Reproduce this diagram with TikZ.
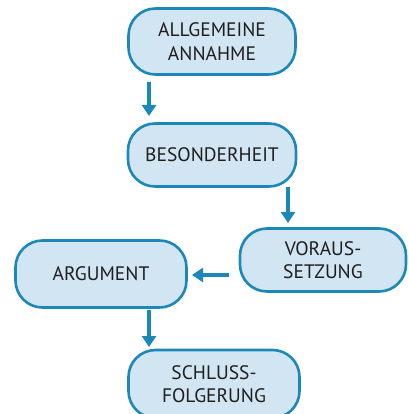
\documentclass[tikz,border=0pt]{standalone}
\usepackage{fontspec}
\setmainfont{PT Sans}
\usetikzlibrary{arrows.meta}
\definecolor{boxfill}{HTML}{D2E5F3}
\definecolor{boxline}{HTML}{1C88B9}
\definecolor{txt}{HTML}{1E1E1E}
\tikzset{
  stepbox/.style={draw=boxline, line width=2.6pt, fill=boxfill, rounded corners=27pt,
    align=center, text=txt, font=\fontsize{19.5}{23.5}\selectfont, inner sep=0pt},
  flow/.style={draw=boxline, line width=3.5pt, -{Triangle[length=11pt,width=14pt]}}
}
\begin{document}
\begin{tikzpicture}[x=1pt,y=-1pt]
\useasboundingbox (0,0) rectangle (408,414);
\clip (0,0) rectangle (408,414);
\node[stepbox, minimum width=167pt, minimum height=66pt] (a) at (212,41.5) {ALLGEMEINE\\ANNAHME};
\node[stepbox, minimum width=168pt, minimum height=63pt] (b) at (212,155) {BESONDERHEIT};
\node[stepbox, minimum width=166pt, minimum height=63pt] (c) at (323,260) {VORAUS-\\SETZUNG};
\node[stepbox, minimum width=171pt, minimum height=67pt] (d) at (101,274) {ARGUMENT};
\node[stepbox, minimum width=171pt, minimum height=68pt] (e) at (214,384) {SCHLUSS-\\FOLGERUNG};
\coordinate (a1) at (149,82);
\coordinate (a2) at (149,116);
\draw[flow] (a1) -- (a2);
\coordinate (b1) at (288,187);
\coordinate (b2) at (288,223);
\draw[flow] (b1) -- (b2);
\coordinate (c1) at (229,275);
\coordinate (c2) at (192,275);
\draw[flow] (c1) -- (c2);
\coordinate (d1) at (149,310);
\coordinate (d2) at (149,347);
\draw[flow] (d1) -- (d2);
\end{tikzpicture}
\end{document}
